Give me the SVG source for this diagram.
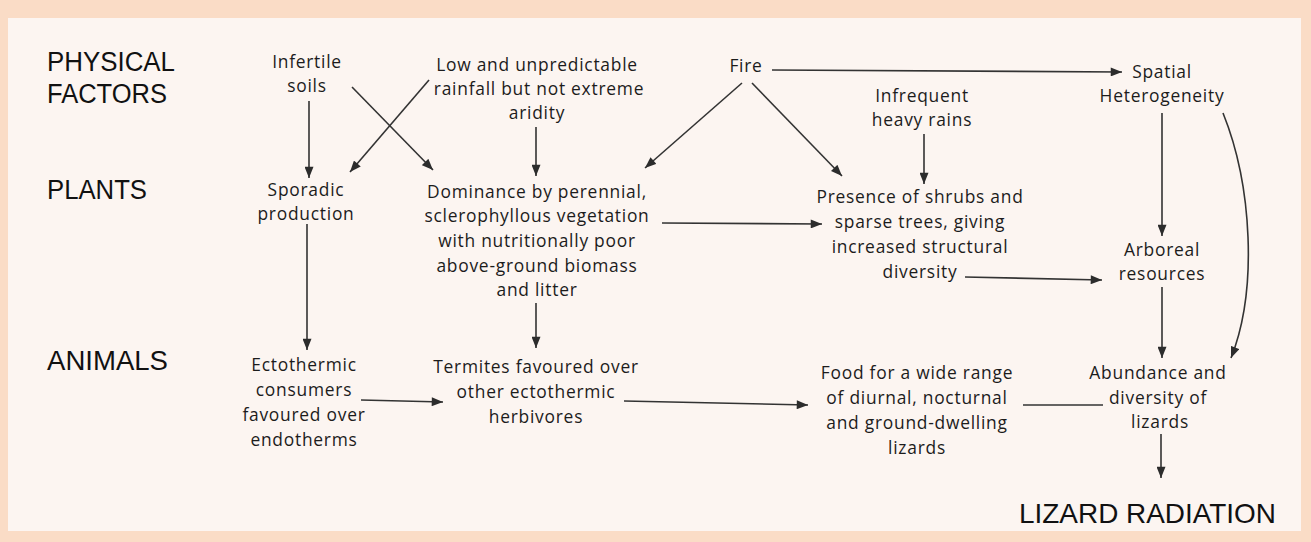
<svg xmlns="http://www.w3.org/2000/svg" width="1311" height="542" viewBox="0 0 1311 542">
<defs>
<style>
.hd{font-family:"Liberation Sans",Arial,sans-serif;font-size:27px;fill:#111;}
.nt{font-family:"Open Sans","Liberation Sans",sans-serif;font-size:17.4px;letter-spacing:0.75px;fill:#1c1c1c;text-anchor:middle;}
.ln{stroke:#333;stroke-width:1.6;fill:none;}
.ar{marker-end:url(#ah);}
</style>
<marker id="ah" viewBox="0 0 10 8" refX="10" refY="4" markerWidth="12" markerHeight="9" markerUnits="userSpaceOnUse" orient="auto">
<path d="M0,0 L10,4 L0,8 z" fill="#2c2c2c"/>
</marker>
</defs>
<rect x="0" y="0" width="1311" height="542" fill="#fadcc6"/>
<rect x="8" y="18" width="1293" height="513" fill="#fcf5f1"/>

<g id="labels">
<text class="hd" x="47" y="71" textLength="128" lengthAdjust="spacingAndGlyphs">PHYSICAL</text>
<text class="hd" x="47" y="103" textLength="120" lengthAdjust="spacingAndGlyphs">FACTORS</text>
<text class="hd" x="47" y="199" textLength="100" lengthAdjust="spacingAndGlyphs">PLANTS</text>
<text class="hd" x="47" y="370" textLength="121" lengthAdjust="spacingAndGlyphs">ANIMALS</text>
</g>

<g id="n-infertile"><text class="nt" x="307" y="68">Infertile</text><text class="nt" x="307" y="92">soils</text></g>
<g id="n-rainfall"><text class="nt" x="537" y="71">Low and unpredictable</text><text class="nt" x="539" y="95">rainfall but not extreme</text><text class="nt" x="537" y="119">aridity</text></g>
<g id="n-fire"><text class="nt" x="746" y="72">Fire</text></g>
<g id="n-spatial"><text class="nt" x="1162" y="78">Spatial</text><text class="nt" x="1162" y="102">Heterogeneity</text></g>
<g id="n-rains"><text class="nt" x="922" y="102">Infrequent</text><text class="nt" x="922" y="126">heavy rains</text></g>
<g id="n-sporadic"><text class="nt" x="306" y="196">Sporadic</text><text class="nt" x="306" y="220">production</text></g>
<g id="n-dominance"><text class="nt" x="537" y="198">Dominance by perennial,</text><text class="nt" x="537" y="222">sclerophyllous vegetation</text><text class="nt" x="537" y="247">with nutritionally poor</text><text class="nt" x="537" y="272">above-ground biomass</text><text class="nt" x="537" y="296">and litter</text></g>
<g id="n-presence"><text class="nt" x="920" y="203">Presence of shrubs and</text><text class="nt" x="920" y="228">sparse trees, giving</text><text class="nt" x="920" y="253">increased structural</text><text class="nt" x="920" y="278">diversity</text></g>
<g id="n-arboreal"><text class="nt" x="1162" y="256">Arboreal</text><text class="nt" x="1162" y="280">resources</text></g>
<g id="n-ecto"><text class="nt" x="304" y="371">Ectothermic</text><text class="nt" x="304" y="396">consumers</text><text class="nt" x="304" y="421">favoured over</text><text class="nt" x="304" y="446">endotherms</text></g>
<g id="n-termites"><text class="nt" x="536" y="373">Termites favoured over</text><text class="nt" x="536" y="398">other ectothermic</text><text class="nt" x="536" y="423">herbivores</text></g>
<g id="n-food"><text class="nt" x="917" y="379">Food for a wide range</text><text class="nt" x="917" y="404">of diurnal, nocturnal</text><text class="nt" x="917" y="429">and ground-dwelling</text><text class="nt" x="917" y="454">lizards</text></g>
<g id="n-abundance"><text class="nt" x="1158" y="379">Abundance and</text><text class="nt" x="1158" y="404">diversity of</text><text class="nt" x="1160" y="428">lizards</text></g>
<g id="n-radiation"><text class="hd" x="1019" y="523" textLength="257" lengthAdjust="spacingAndGlyphs" style="font-size:28px">LIZARD RADIATION</text></g>

<g id="connectors">
<line class="ln ar" x1="309" y1="101" x2="309" y2="178"/>
<line class="ln ar" x1="352" y1="87" x2="433" y2="170"/>
<line class="ln ar" x1="429" y1="80" x2="350" y2="172"/>
<line class="ln ar" x1="536" y1="127" x2="536" y2="176"/>
<line class="ln ar" x1="742" y1="83" x2="645" y2="168"/>
<line class="ln ar" x1="752" y1="83" x2="842" y2="176"/>
<line class="ln ar" x1="772" y1="70" x2="1122" y2="72"/>
<line class="ln ar" x1="924" y1="134" x2="924" y2="184"/>
<line class="ln ar" x1="1162" y1="113" x2="1162" y2="236"/>
<path class="ln ar" d="M1223,113 C1252,185 1258,290 1231,358"/>
<line class="ln ar" x1="662" y1="223" x2="822" y2="224"/>
<line class="ln ar" x1="965" y1="277" x2="1102" y2="280"/>
<line class="ln ar" x1="1162" y1="287" x2="1162" y2="358"/>
<line class="ln ar" x1="307" y1="224" x2="307" y2="350"/>
<line class="ln ar" x1="536" y1="303" x2="536" y2="348"/>
<line class="ln ar" x1="361" y1="400" x2="443" y2="402"/>
<line class="ln ar" x1="624" y1="401" x2="808" y2="405"/>
<line class="ln" x1="1023" y1="405" x2="1103" y2="405"/>
<line class="ln ar" x1="1161" y1="434" x2="1161" y2="478"/>
</g>
</svg>
